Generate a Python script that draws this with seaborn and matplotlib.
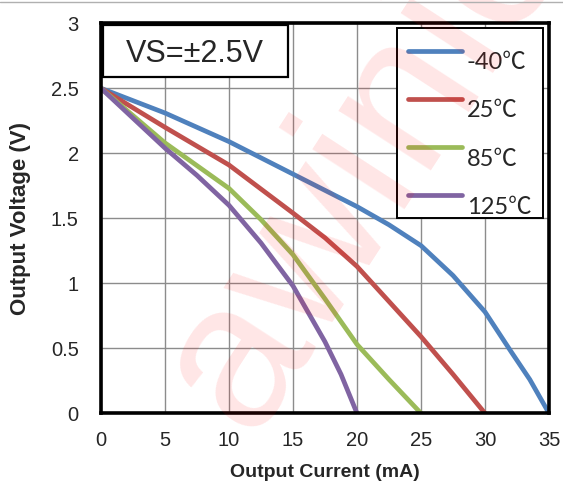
import numpy as np
import pandas as pd
import matplotlib
matplotlib.use("Agg")
import matplotlib.pyplot as plt
import seaborn as sns
from matplotlib.patches import Rectangle
from matplotlib.lines import Line2D
from matplotlib.legend_handler import HandlerLine2D

# ---- data ----
temps = ["-40℃", "25℃", "85℃", "125℃"]
current_m40 = [0, 5, 10, 15, 20, 22.5, 25, 27.5, 30, 32, 33.5, 35]
voltage_m40 = [2.5, 2.31, 2.09, 1.84, 1.59, 1.45, 1.29, 1.06, 0.78, 0.48, 0.26, 0.0]
current_25 = [0, 5, 10, 15, 17.5, 20, 22.5, 25, 27.5, 30]
voltage_25 = [2.5, 2.2, 1.91, 1.54, 1.35, 1.13, 0.86, 0.59, 0.30, 0.0]
current_85 = [0, 5, 10, 12.5, 15, 17.5, 20, 22.5, 25]
voltage_85 = [2.5, 2.08, 1.73, 1.49, 1.22, 0.88, 0.53, 0.26, 0.0]
current_125 = [0, 5, 7.5, 10, 12.5, 15, 17.5, 18.75, 20]
voltage_125 = [2.5, 2.04, 1.83, 1.60, 1.31, 0.98, 0.55, 0.30, 0.0]
colors = ["#4F81BD", "#C0504D", "#9BBB59", "#8064A2"]
x_ticks = [0, 5, 10, 15, 20, 25, 30, 35]
y_ticks = [0, 0.5, 1, 1.5, 2, 2.5, 3]
y_tick_labels = ["0", "0.5", "1", "1.5", "2", "2.5", "3"]

frames = []
for t, c, v in zip(temps,
                   [current_m40, current_25, current_85, current_125],
                   [voltage_m40, voltage_25, voltage_85, voltage_125]):
    frames.append(pd.DataFrame({"current": c, "voltage": v, "temp": t}))
df = pd.concat(frames, ignore_index=True)

sns.set_style("white")
plt.rcParams["font.family"] = ["Liberation Sans", "DejaVu Sans"]

fig = plt.figure(figsize=(5.63, 4.86), dpi=100)
W, H = 563, 486
L, R, T, B = 101, 549, 23.3, 413.3
ax = fig.add_axes([L / W, (H - B) / H, (R - L) / W, (B - T) / H])

# watermark
fig.text(362 / W, (H - 165) / H, "awinic", rotation=57, fontsize=150,
         color="#FF0000", alpha=0.10, ha="center", va="center",
         family="Liberation Sans", zorder=0)
# thin top frame line
fig.add_artist(Line2D([0, 1], [(H - 2) / H, (H - 2) / H], transform=fig.transFigure,
                      color="#B0B0B0", lw=1))

sns.lineplot(data=df, x="current", y="voltage", hue="temp", hue_order=temps,
             palette=colors, sort=False, estimator=None, lw=3.4,
             ax=ax, legend=False, zorder=3)
for ln in ax.get_lines():
    ln.set_solid_capstyle("round")
    ln.set_solid_joinstyle("round")

ax.patch.set_alpha(0)
ax.set_xlim(0, 35)
ax.set_ylim(0, 3)
ax.set_xticks(x_ticks)
ax.set_yticks(y_ticks)
ax.set_yticklabels(y_tick_labels)
ax.grid(True, color="#8C8C8C", lw=1)
ax.tick_params(axis="both", length=0, labelsize=14.5)
ax.tick_params(axis="x", pad=13)
ax.tick_params(axis="y", pad=16)
for s in ax.spines.values():
    s.set_color("black")
    s.set_linewidth(2.6)
    s.set_zorder(5)

ax.set_xlabel("Output Current (mA)", fontsize=14, fontweight="bold", labelpad=10)
ax.set_ylabel("Output Voltage (V)", fontsize=16, fontweight="bold", labelpad=14)

# VS annotation box
ax.add_patch(Rectangle((0.004, 0.862), 0.413, 0.134, transform=ax.transAxes,
                       facecolor="white", edgecolor="black", lw=1.6, zorder=6))
ax.text(0.21, 0.922, "VS=±2.5V", transform=ax.transAxes, fontsize=22,
        ha="center", va="center", zorder=7,
        family=["Liberation Sans", "Noto Sans CJK SC"])


class UpHandler(HandlerLine2D):
    def create_artists(self, legend, orig_handle, xdescent, ydescent, width,
                       height, fontsize, trans):
        arts = super().create_artists(legend, orig_handle, xdescent, ydescent,
                                      width, height, fontsize, trans)
        for a in arts:
            a.set_ydata(np.asarray(a.get_ydata()) + 7.2)
        return arts


# legend frame drawn separately, legend content shifted down inside it
ax.add_patch(Rectangle((0.661, 0.5), 0.326, 0.487, transform=ax.transAxes,
                       facecolor="white", edgecolor="black", lw=1.4, zorder=7))
handles = [Line2D([], [], color=c, lw=3.4, solid_capstyle="round") for c in colors]
leg = ax.legend(handles, temps, loc="upper right", bbox_to_anchor=(0.987, 0.956),
                borderaxespad=0, frameon=False, handlelength=2.3,
                handletextpad=0.2, labelspacing=1.15, borderpad=0.5,
                handler_map={Line2D: UpHandler()},
                prop={"family": ["Lato", "Noto Sans CJK SC"], "size": 17})
leg.set_zorder(8)

fig.savefig("out.png", dpi=100)
